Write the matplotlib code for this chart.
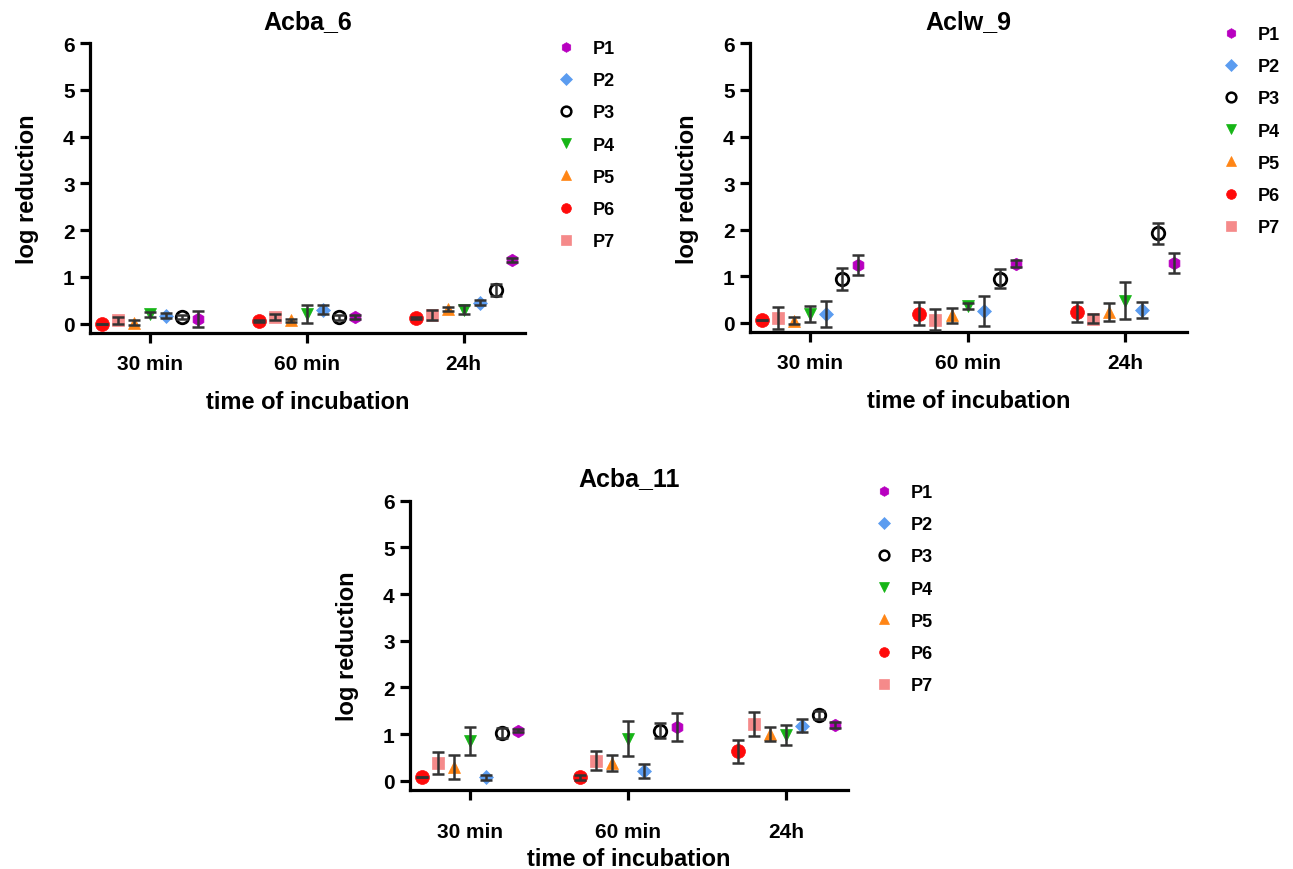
import matplotlib
matplotlib.use("Agg")
import matplotlib.pyplot as plt
from matplotlib.lines import Line2D
import numpy as np

plt.rcParams["font.family"] = ["Liberation Sans", "DejaVu Sans"]
plt.rcParams["font.weight"] = "bold"

times = ["30 min", "60 min", "24h"]
series = ["P1", "P2", "P3", "P4", "P5", "P6", "P7"]

# mean / error per series (30 min, 60 min, 24h)
acba6_mean = {
    "P1": [0.10, 0.14, 1.36], "P2": [0.17, 0.30, 0.45], "P3": [0.14, 0.14, 0.73],
    "P4": [0.20, 0.21, 0.30], "P5": [0.02, 0.07, 0.32], "P6": [0.00, 0.05, 0.12],
    "P7": [0.07, 0.14, 0.19],
}
acba6_err = {
    "P1": [0.17, 0.04, 0.05], "P2": [0.05, 0.10, 0.05], "P3": [0.04, 0.05, 0.13],
    "P4": [0.06, 0.20, 0.10], "P5": [0.05, 0.04, 0.04], "P6": [0.00, 0.02, 0.02],
    "P7": [0.07, 0.06, 0.10],
}
aclw9_mean = {
    "P1": [1.24, 1.27, 1.29], "P2": [0.20, 0.26, 0.28], "P3": [0.94, 0.95, 1.92],
    "P4": [0.19, 0.36, 0.48], "P5": [0.05, 0.16, 0.24], "P6": [0.07, 0.20, 0.23],
    "P7": [0.10, 0.07, 0.09],
}
aclw9_err = {
    "P1": [0.22, 0.08, 0.21], "P2": [0.28, 0.32, 0.17], "P3": [0.23, 0.21, 0.22],
    "P4": [0.18, 0.06, 0.40], "P5": [0.08, 0.17, 0.19], "P6": [0.00, 0.25, 0.22],
    "P7": [0.24, 0.22, 0.10],
}
acba11_mean = {
    "P1": [1.07, 1.16, 1.19], "P2": [0.07, 0.20, 1.18], "P3": [1.02, 1.07, 1.41],
    "P4": [0.86, 0.90, 0.98], "P5": [0.30, 0.38, 1.00], "P6": [0.07, 0.07, 0.63],
    "P7": [0.38, 0.43, 1.21],
}
acba11_err = {
    "P1": [0.03, 0.30, 0.06], "P2": [0.05, 0.15, 0.14], "P3": [0.10, 0.16, 0.08],
    "P4": [0.30, 0.38, 0.21], "P5": [0.26, 0.18, 0.16], "P6": [0.00, 0.05, 0.25],
    "P7": [0.24, 0.20, 0.26],
}

colors = {"P1": "#B800C0", "P2": "#5B9CF0", "P3": "black", "P4": "#16B516",
          "P5": "#FF8515", "P6": "#FF0A0A", "P7": "#F58A8A"}
markers = {"P1": "h", "P2": "D", "P3": "o", "P4": "v", "P5": "^", "P6": "o", "P7": "s"}
msize = {"P1": 9, "P2": 7, "P3": 9, "P4": 9, "P5": 9, "P6": 10, "P7": 9}
# left-to-right order inside each time group
slot = {"P6": -3, "P7": -2, "P5": -1, "P4": 0, "P2": 1, "P3": 2, "P1": 3}
step = 0.102

fig = plt.figure(figsize=(12.93, 8.7), dpi=100)


def panel(rect, title, means, errs, leg_xy, xpad, xlabpad):
    ax = fig.add_axes(rect)
    x = np.arange(len(times))
    for s in series:
        xs = x + slot[s] * step
        face = "none" if s == "P3" else colors[s]
        ax.plot(xs, means[s], linestyle="none", marker=markers[s], ms=msize[s],
                mfc=face, mec=colors[s], mew=2 if s == "P3" else 0.5,
                zorder=3, clip_on=False)
        ax.errorbar(xs, means[s], yerr=errs[s], fmt="none", ecolor="#333333",
                    elinewidth=1.8, capsize=4.5, capthick=1.8, zorder=4,
                    clip_on=False)
    ax.set_xlim(-0.38, 2.39)
    ax.set_ylim(-0.2, 6)
    ax.set_yticks(range(0, 7))
    ax.set_xticks(x)
    ax.set_xticklabels(times)
    for side in ["top", "right"]:
        ax.spines[side].set_visible(False)
    for side in ["left", "bottom"]:
        ax.spines[side].set_linewidth(2.3)
    ax.tick_params(width=2.3, length=7, labelsize=15, pad=4)
    ax.tick_params(axis="x", length=7, pad=xpad)
    for lab in ax.get_xticklabels() + ax.get_yticklabels():
        lab.set_fontweight("bold")
    ax.set_title(title, fontsize=18, fontweight="bold", pad=11)
    ax.set_xlabel("time of incubation", fontsize=17, fontweight="bold", labelpad=xlabpad)
    ax.set_ylabel("log reduction", fontsize=17, fontweight="bold", labelpad=17)

    handles = [Line2D([], [], linestyle="none", marker=markers[s],
                      ms=7 if s != "P2" else 6,
                      mfc="none" if s == "P3" else colors[s], mec=colors[s],
                      mew=1.8 if s == "P3" else 0.5, label=s) for s in series]
    ax.legend(handles=handles, loc="upper left", bbox_to_anchor=leg_xy,
              bbox_transform=fig.transFigure, frameon=False,
              prop={"weight": "bold", "size": 13}, labelspacing=0.84,
              handletextpad=0.9, handlelength=1.2, borderpad=0)
    return ax


panel([0.0696, 0.616, 0.3364, 0.3333], "Acba_6", acba6_mean, acba6_err,
      (546 / 1293, 1 - 32 / 870), 8, 12)
panel([0.580, 0.617, 0.338, 0.332], "Aclw_9", aclw9_mean, aclw9_err,
      (1211 / 1293, 1 - 18 / 870), 8, 12)
panel([0.3171, 0.0908, 0.3387, 0.3325], "Acba_11", acba11_mean, acba11_err,
      (864 / 1293, 1 - 476 / 870), 16, 4)

fig.savefig("out.png", dpi=100)
